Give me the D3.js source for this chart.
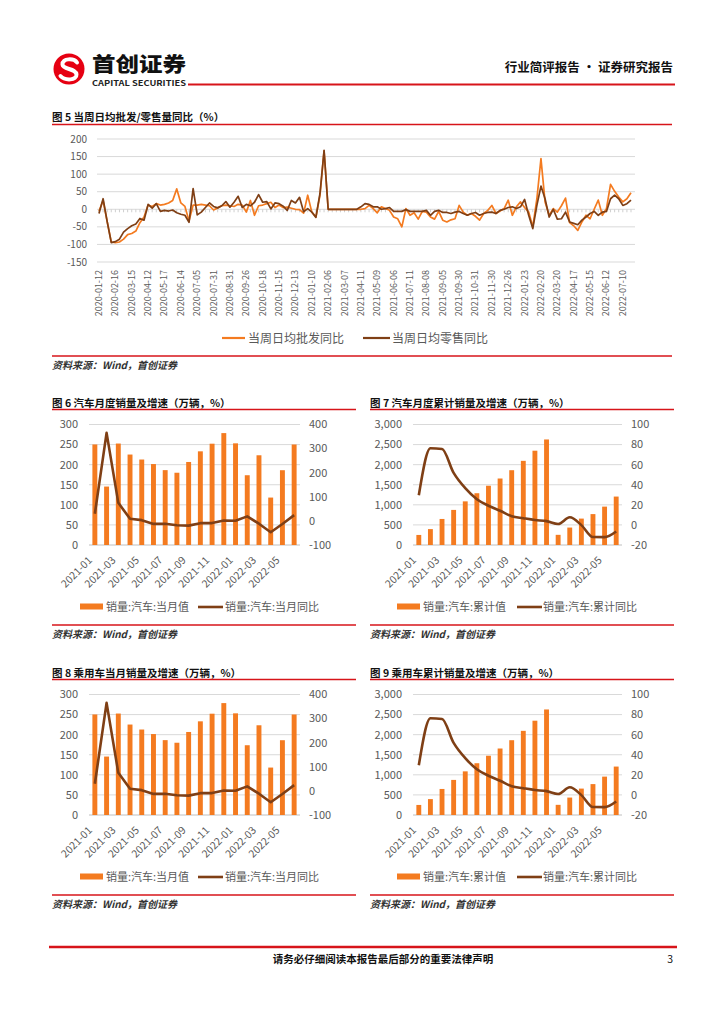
<!DOCTYPE html>
<html><head><meta charset="utf-8">
<script src="https://cdn.jsdelivr.net/npm/d3@7"></script>
<style>body{margin:0;background:#fff}svg{display:block}text{font-family:"Noto Sans CJK SC","Noto Sans",sans-serif}</style>
</head><body><svg id="c" width="724" height="1024"></svg>
<script>
// ---------- DATA ----------
const weekLabels = ["2020-01-12","2020-02-16","2020-03-15","2020-04-12","2020-05-17","2020-06-14","2020-07-05","2020-07-31","2020-08-31","2020-09-26","2020-10-18","2020-11-15","2020-12-13","2021-01-10","2021-02-06","2021-03-07","2021-04-11","2021-05-09","2021-06-06","2021-07-11","2021-08-08","2021-09-05","2021-09-30","2021-10-31","2021-11-30","2021-12-26","2022-01-23","2022-02-20","2022-03-20","2022-04-17","2022-05-15","2022-06-12","2022-07-10"];
const wholesaleYoY = [-5,25,-35,-93,-95,-93,-85,-72,-69,-62,-38,-22,12,8,16,12,14,18,25,58,18,8,-33,12,12,14,12,10,-2,4,10,12,10,8,14,12,-8,25,-17,10,12,16,20,5,12,5,6,3,0,-1,-11,40,-8,-22,40,166,0,0,0,0,0,0,0,0,0,2,11,2,-10,7,2,-3,-22,-27,-50,2,-17,-10,-28,-6,-8,-22,-28,-6,-31,-36,-30,-27,11,-8,-17,-12,-20,-31,-12,-3,11,-12,-5,2,26,-17,7,21,5,-8,-50,30,144,21,-17,2,-8,10,32,-38,-47,-60,-36,-17,-27,0,26,-17,2,71,51,35,21,30,47];
const retailYoY = [-12,30,-35,-95,-92,-85,-65,-55,-47,-42,-26,-31,14,3,16,-6,-3,-5,-2,-10,-14,-17,-37,59,-16,-8,5,18,8,4,10,22,6,20,37,5,14,10,20,42,20,22,1,18,16,9,-3,25,18,34,-7,2,-8,-23,45,168,0,0,0,0,0,0,0,0,7,16,14,7,7,0,2,5,-6,-6,-6,-1,-6,-6,-6,-6,-3,-17,-6,-3,-9,-9,-12,-8,-6,-12,-17,-12,-9,-17,-12,-9,-8,-12,-3,0,5,7,2,7,28,-17,-55,11,66,30,-22,0,-28,-27,-8,-36,-40,-44,-31,-22,-12,-6,-17,-8,-6,30,40,30,11,16,26];

const months = ["2021-01","2021-02","2021-03","2021-04","2021-05","2021-06","2021-07","2021-08","2021-09","2021-10","2021-11","2021-12","2022-01","2022-02","2022-03","2022-04","2022-05","2022-06"];
const autoMonthlySales = [250.3,145.5,252.6,225.2,212.8,201.5,186.4,179.9,206.7,233.2,252.2,278.6,253.1,173.7,223.4,118.1,186.2,250.2];
const autoMonthlyYoY = [29.5,365.2,74.9,8.6,3.1,-12.4,-11.9,-18.1,-19.6,-9.4,-9.1,1.6,0.9,18.7,-11.7,-47.1,-12.6,23.8];
const autoCumSales = [250.3,395.7,648.4,873.6,1086.4,1289.1,1475.6,1655.4,1862.1,2095.3,2347.5,2627.5,253.1,434.0,657.3,769.4,955.6,1205.7];
const autoCumYoY = [29.5,76.3,75.6,51.8,36.6,25.6,19.1,14.1,8.7,6.7,4.9,3.8,0.9,7.6,-0.2,-12.1,-12.2,-6.6];
const pcMonthlySales = [250.3,145.5,252.6,225.2,212.8,201.5,186.4,179.9,206.7,233.2,252.2,278.6,253.1,173.7,223.4,118.1,186.2,250.2];
const pcMonthlyYoY = [29.5,365.2,74.9,8.6,3.1,-12.4,-11.9,-18.1,-19.6,-9.4,-9.1,1.6,0.9,18.7,-11.7,-47.1,-12.6,23.8];
const pcCumSales = [250.3,395.7,648.4,873.6,1086.4,1289.1,1475.6,1655.4,1862.1,2095.3,2347.5,2627.5,253.1,434.0,657.3,769.4,955.6,1205.7];
const pcCumYoY = [29.5,76.3,75.6,51.8,36.6,25.6,19.1,14.1,8.7,6.7,4.9,3.8,0.9,7.6,-0.2,-12.1,-12.2,-6.6];

const ticks5 = [-150,-100,-50,0,50,100,150,200];
const ticksMonthlyL = [0,50,100,150,200,250,300];
const ticksMonthlyR = [-100,0,100,200,300,400];
const ticksCumL = [0,500,1000,1500,2000,2500,3000];
const ticksCumR = [-20,0,20,40,60,80,100];

// ---------- STYLE ----------
const RED="#D7141A", ORANGE="#F47B20", BROWN="#7F3F15", GRID="#D9D9D9", AXC="#595959";
const NUM="'Liberation Sans','Noto Sans CJK SC',sans-serif";
const svg=d3.select("#c");
svg.append("rect").attr("width",724).attr("height",1024).attr("fill","#fff");

// ---------- HEADER ----------
svg.append("circle").attr("cx",69).attr("cy",69).attr("r",15.5).attr("fill","#E60012");
svg.append("path").attr("d","M77,62.5 C74,58 62,58 62.5,64.5 C63,70 76,68 76.5,74.5 C77,80.5 65,81 60.5,76")
  .attr("fill","none").attr("stroke","#fff").attr("stroke-width",4).attr("stroke-linecap","round");
svg.append("text").attr("x",92).attr("y",71.5).attr("font-size",20.5).attr("font-weight",900)
  .attr("textLength",94).attr("lengthAdjust","spacingAndGlyphs").attr("fill","#111").text("首创证券");
svg.append("text").attr("x",92).attr("y",85.5).attr("font-size",7.5).attr("font-weight",700).attr("font-family",NUM)
  .attr("textLength",94).attr("lengthAdjust","spacingAndGlyphs").attr("fill","#222").text("CAPITAL SECURITIES");
svg.append("line").attr("x1",188).attr("x2",675).attr("y1",84.5).attr("y2",84.5).attr("stroke",RED).attr("stroke-width",2);
svg.append("text").attr("x",673).attr("y",72).attr("text-anchor","end").attr("font-size",12.5).attr("font-weight",700)
  .attr("fill","#111").text("行业简评报告 · 证券研究报告");

function hline(x1,x2,y,w){svg.append("line").attr("x1",x1).attr("x2",x2).attr("y1",y).attr("y2",y).attr("stroke",RED).attr("stroke-width",w||1.3);}
function title(x,y,t){svg.append("text").attr("x",x).attr("y",y).attr("font-size",10.5).attr("font-weight",700).attr("fill","#111").text(t);}
function source(x,y){svg.append("text").attr("x",x).attr("y",y).attr("font-size",10).attr("font-style","italic").attr("font-weight",700).attr("fill","#333").text("资料来源：Wind，首创证券");}

// ---------- CHART 5 ----------
title(52,121,"图 5 当周日均批发/零售量同比（%）");
hline(52,672,124.5);
const x5=d3.scaleLinear().domain([0,wholesaleYoY.length-1]).range([99,631]);
const y5=d3.scaleLinear().domain([-150,200]).range([262,139]);
const g5=svg.append("g");
g5.selectAll("line.grid").data(ticks5).join("line").attr("x1",97).attr("x2",635)
  .attr("y1",d=>y5(d)).attr("y2",d=>y5(d)).attr("stroke",GRID).attr("stroke-width",1);
g5.selectAll("line.tk").data(d3.range(wholesaleYoY.length)).join("line")
  .attr("x1",d=>x5(d)).attr("x2",d=>x5(d)).attr("y1",y5(0)).attr("y2",y5(0)+3).attr("stroke","#CFCFCF");
g5.selectAll("text.yl").data(ticks5).join("text").attr("x",87).attr("y",d=>y5(d)).attr("dy","0.35em")
  .attr("text-anchor","end").attr("font-family",NUM).attr("font-size",10).attr("fill",AXC).text(d=>d);
const line5=d3.line().x((d,i)=>x5(i)).y(d=>y5(d));
g5.append("path").datum(wholesaleYoY).attr("d",line5).attr("fill","none").attr("stroke",ORANGE).attr("stroke-width",1.7).attr("stroke-linejoin","round");
g5.append("path").datum(retailYoY).attr("d",line5).attr("fill","none").attr("stroke",BROWN).attr("stroke-width",1.7).attr("stroke-linejoin","round");
g5.selectAll("text.xl").data(weekLabels).join("text")
  .attr("transform",(d,k)=>`translate(${x5(k*4)+3},270) rotate(-90)`).attr("text-anchor","end")
  .attr("font-family",NUM).attr("font-size",9).attr("fill",AXC).text(d=>d);
svg.append("line").attr("x1",222).attr("x2",245).attr("y1",338).attr("y2",338).attr("stroke",ORANGE).attr("stroke-width",2.2);
svg.append("text").attr("x",248).attr("y",342.5).attr("font-size",12).attr("fill",AXC).text("当周日均批发同比");
svg.append("line").attr("x1",363).attr("x2",390).attr("y1",338).attr("y2",338).attr("stroke",BROWN).attr("stroke-width",2.2);
svg.append("text").attr("x",392).attr("y",342.5).attr("font-size",12).attr("fill",AXC).text("当周日均零售同比");
hline(52,672,356);
source(52,369);

// ---------- COMBO CHARTS ----------
function combo(o){
  const dy=o.dy;
  title(o.tx, 406.5+dy, o.title);
  hline(o.tx, o.tx2, 409.5+dy);
  const x=d3.scaleBand().domain(months).range([o.x0,o.x1]);
  const yl=d3.scaleLinear().domain(o.lDom).range([545+dy,424.5+dy]);
  const yr=d3.scaleLinear().domain(o.rDom).range([545+dy,424.5+dy]);
  const g=svg.append("g");
  g.selectAll("line.grid").data(o.lTicks).join("line").attr("x1",o.x0).attr("x2",o.x1)
    .attr("y1",d=>yl(d)).attr("y2",d=>yl(d)).attr("stroke",d=>d===0?"#BFBFBF":GRID);
  g.selectAll("text.yl").data(o.lTicks).join("text").attr("x",o.x0-11).attr("y",d=>yl(d)).attr("dy","0.35em")
    .attr("text-anchor","end").attr("font-family",NUM).attr("font-size",11).attr("fill",AXC).text(o.lFmt);
  g.selectAll("text.yr").data(o.rTicks).join("text").attr("x",o.x1+9).attr("y",d=>yr(d)).attr("dy","0.35em")
    .attr("text-anchor","start").attr("font-family",NUM).attr("font-size",11).attr("fill",AXC).text(d=>d);
  const bw=x.bandwidth()*0.42;
  g.selectAll("rect.bar").data(o.bars).join("rect").attr("x",(d,i)=>x(months[i])+x.bandwidth()/2-bw/2)
    .attr("y",d=>yl(d)).attr("width",bw).attr("height",d=>yl(0)-yl(d)).attr("fill",ORANGE);
  const ln=d3.line().x((d,i)=>x(months[i])+x.bandwidth()/2).y(d=>yr(d)).curve(o.curve);
  g.append("path").datum(o.line).attr("d",ln).attr("fill","none").attr("stroke",BROWN).attr("stroke-width",2.6).attr("stroke-linejoin","round");
  g.selectAll("text.xl").data(months.filter((m,i)=>i%2===0)).join("text")
    .attr("transform",d=>`translate(${x(d)+x.bandwidth()/2-2},${561+dy}) rotate(-45)`).attr("text-anchor","end")
    .attr("font-family",NUM).attr("font-size",10.5).attr("fill",AXC).text(d=>d);
  g.append("rect").attr("x",o.lg[0]).attr("y",603.5+dy).attr("width",23).attr("height",6).attr("fill",ORANGE);
  g.append("text").attr("x",o.lg[1]).attr("y",611+dy).attr("font-size",11).attr("fill",AXC).text(o.l1);
  g.append("line").attr("x1",o.lg[2]).attr("x2",o.lg[2]+25).attr("y1",607+dy).attr("y2",607+dy).attr("stroke",BROWN).attr("stroke-width",2.6);
  g.append("text").attr("x",o.lg[3]).attr("y",611+dy).attr("font-size",11).attr("fill",AXC).text(o.l2);
  hline(o.tx, o.tx2, 625+dy);
  source(o.tx, 638+dy);
}
combo({dy:0,tx:52,tx2:356,title:"图 6 汽车月度销量及增速（万辆，%）",x0:89,x1:300,lDom:[0,300],rDom:[-100,400],
  lTicks:ticksMonthlyL,rTicks:ticksMonthlyR,lFmt:d=>d,bars:autoMonthlySales,line:autoMonthlyYoY,curve:d3.curveLinear,
  lg:[80,106,198,225],l1:"销量:汽车:当月值",l2:"销量:汽车:当月同比"});
combo({dy:0,tx:370,tx2:674,title:"图 7 汽车月度累计销量及增速（万辆，%）",x0:413,x1:622,lDom:[0,3000],rDom:[-20,100],
  lTicks:ticksCumL,rTicks:ticksCumR,lFmt:d3.format(","),bars:autoCumSales,line:autoCumYoY,curve:d3.curveMonotoneX,
  lg:[397,423,517,543],l1:"销量:汽车:累计值",l2:"销量:汽车:累计同比"});
combo({dy:270,tx:52,tx2:356,title:"图 8 乘用车当月销量及增速（万辆，%）",x0:89,x1:300,lDom:[0,300],rDom:[-100,400],
  lTicks:ticksMonthlyL,rTicks:ticksMonthlyR,lFmt:d=>d,bars:pcMonthlySales,line:pcMonthlyYoY,curve:d3.curveLinear,
  lg:[80,106,198,225],l1:"销量:汽车:当月值",l2:"销量:汽车:当月同比"});
combo({dy:270,tx:370,tx2:674,title:"图 9 乘用车累计销量及增速（万辆，%）",x0:413,x1:622,lDom:[0,3000],rDom:[-20,100],
  lTicks:ticksCumL,rTicks:ticksCumR,lFmt:d3.format(","),bars:pcCumSales,line:pcCumYoY,curve:d3.curveMonotoneX,
  lg:[397,423,517,543],l1:"销量:汽车:累计值",l2:"销量:汽车:累计同比"});

// ---------- FOOTER ----------
hline(49,677,947,2.5);
svg.append("text").attr("x",383).attr("y",963).attr("text-anchor","middle").attr("font-size",10.5).attr("font-weight",700).attr("fill","#111").text("请务必仔细阅读本报告最后部分的重要法律声明");
svg.append("text").attr("x",673).attr("y",963).attr("text-anchor","end").attr("font-family",NUM).attr("font-size",10.5).attr("fill","#111").text("3");
</script></body></html>
